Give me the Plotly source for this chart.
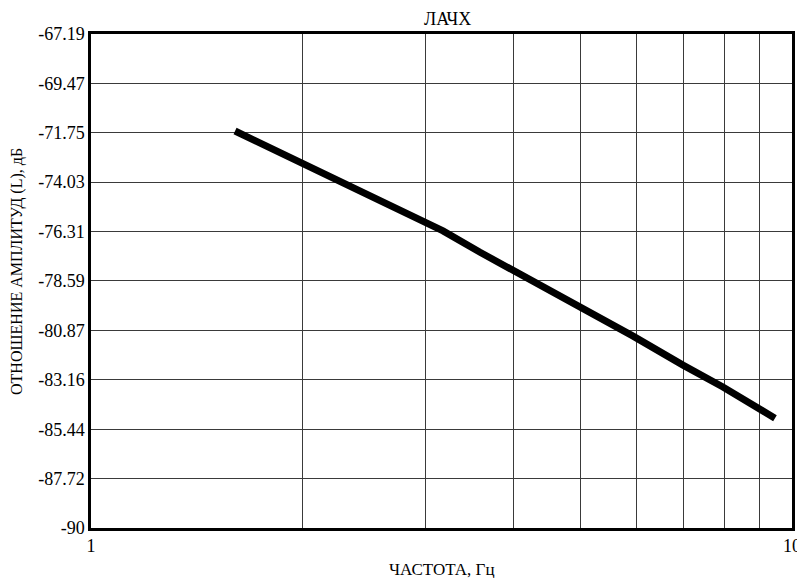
import plotly.graph_objects as go

freq = [1.605, 2.0, 2.288, 2.787, 3.178, 3.589, 4.229, 4.984, 5.934, 6.99, 7.97, 9.456]
amp_db = [-71.67, -73.18, -74.09, -75.42, -76.28, -77.27, -78.51, -79.76, -81.14, -82.48, -83.49, -84.93]

y_ticks = [-90, -87.72, -85.44, -83.16, -80.87, -78.59, -76.31, -74.03, -71.75, -69.47, -67.19]
y_tick_labels = ["-90", "-87.72", "-85.44", "-83.16", "-80.87", "-78.59", "-76.31",
                 "-74.03", "-71.75", "-69.47", "-67.19"]
x_ticks = [1, 2, 3, 4, 5, 6, 7, 8, 9, 10]
x_tick_labels = ["1", "", "", "", "", "", "", "", "", "10"]

title_text = "ЛАЧХ"
x_title = "ЧАСТОТА, Гц"
y_title = "ОТНОШЕНИЕ АМПЛИТУД (L), дБ"

serif = "Liberation Serif, Times New Roman, serif"

# page body adds an 8px offset; work in figure coordinates = screen - 8
OFF = 8
W, H = 805 - OFF, 578 - OFF
L, T = 91 - OFF, 34 - OFF
R = W - (792 - OFF)
B = H - (528 - OFF)
pw, ph = W - L - R, H - T - B


def px(x):
    return (x - OFF - L) / pw


def py(y):
    return (H - B - (y - OFF)) / ph


fig = go.Figure()
fig.add_trace(go.Scatter(x=freq, y=amp_db, mode="lines",
                         line=dict(color="black", width=7), showlegend=False))

fig.update_layout(
    width=W, height=H,
    margin=dict(l=L, r=R, t=T, b=B, autoexpand=False),
    paper_bgcolor="white", plot_bgcolor="white",
    font=dict(family=serif, size=18, color="black"),
    xaxis=dict(type="log", range=[0, 1], tickvals=x_ticks, ticktext=x_tick_labels,
               showgrid=True, gridcolor="#3a3a3a", gridwidth=1,
               showline=True, linecolor="black", linewidth=2.5, mirror=True,
               ticks="", zeroline=False, automargin=False,
               tickfont=dict(family=serif, size=18)),
    yaxis=dict(range=[-90, -67.19], tickvals=y_ticks, ticktext=y_tick_labels,
               showgrid=True, gridcolor="#3a3a3a", gridwidth=1,
               showline=True, linecolor="black", linewidth=2.5, mirror=True,
               ticks="", zeroline=False, automargin=False,
               tickfont=dict(family=serif, size=18)),
    annotations=[
        dict(text=title_text, x=px(447), y=py(19), xref="paper", yref="paper",
             xanchor="center", yanchor="middle", showarrow=False,
             font=dict(family=serif, size=18)),
        dict(text=x_title, x=px(442), y=py(569), xref="paper", yref="paper",
             xanchor="center", yanchor="middle", showarrow=False,
             font=dict(family=serif, size=17)),
        dict(text=y_title, x=px(17), y=py(272), xref="paper", yref="paper",
             xanchor="center", yanchor="middle", showarrow=False, textangle=-90,
             font=dict(family=serif, size=16)),
    ],
)

fig.write_html("out.html")
